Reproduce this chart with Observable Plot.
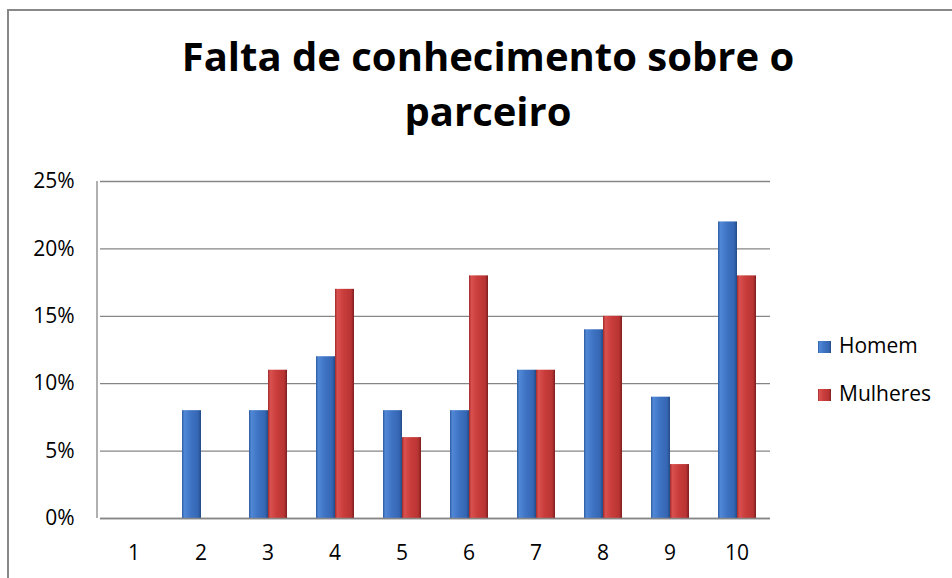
<!DOCTYPE html>
<html><head><meta charset="utf-8">
<script src="https://cdn.jsdelivr.net/npm/d3@7"></script>
<script src="https://cdn.jsdelivr.net/npm/@observablehq/plot@0.6"></script>
<style>
body{margin:0;background:#fff}
#chart{position:relative;width:952px;height:578px;overflow:hidden}
</style>
</head><body><div id="chart"></div>
<script>
const categories = ["1","2","3","4","5","6","7","8","9","10"];
const series = ["Homem","Mulheres"];
const homem =    [0, 0.08, 0.08, 0.12, 0.08, 0.08, 0.11, 0.14, 0.09, 0.22];
const mulheres = [0, 0,    0.11, 0.17, 0.06, 0.18, 0.11, 0.15, 0.04, 0.18];
const yTicks = [0, 0.05, 0.10, 0.15, 0.20, 0.25];
const titleLines = ["Falta de conhecimento sobre o", "parceiro"];

const data = categories.flatMap((c, i) => [
  {cat: c, serie: series[0], value: homem[i]},
  {cat: c, serie: series[1], value: mulheres[i]}
]);

const FONT = "'Open Sans', sans-serif";
const plot = Plot.plot({
  width: 952, height: 578,
  marginLeft: 97, marginRight: 179, marginTop: 181, marginBottom: 60,
  style: {fontFamily: FONT, fontSize: "21px", color: "#000", background: "transparent"},
  fx: {domain: categories, padding: 0, label: null},
  x: {domain: series, paddingInner: 0, paddingOuter: 0.69, axis: null},
  y: {domain: [0, 0.25], axis: null},
  marks: [
    Plot.gridY(yTicks, {stroke: "#868686", strokeOpacity: 1, strokeWidth: 1.3}),
    Plot.barY(data.filter(d => d.serie === series[0]), {fx: "cat", x: "serie", y: "value", fill: "url(#gBlue)"}),
    Plot.barY(data.filter(d => d.serie === series[1]), {fx: "cat", x: "serie", y: "value", fill: "url(#gRed)"}),
    Plot.ruleY([0], {stroke: "#868686", strokeWidth: 1.3}),
    Plot.axisY(yTicks, {anchor: "left", tickFormat: d3.format(".0%"), tickSize: 0, tickPadding: 26, fontSize: 21, label: null}),
    Plot.axisFx({anchor: "bottom", tickSize: 0, tickPadding: 27, fontSize: 21, label: null})
  ]
});

document.getElementById("chart").appendChild(plot);
const svg = d3.select(plot);
const defs = svg.insert("defs", ":first-child");
function grad(id, stops) {
  const g = defs.append("linearGradient").attr("id", id).attr("x1", 0).attr("x2", 1).attr("y1", 0).attr("y2", 0);
  stops.forEach(([o, c]) => g.append("stop").attr("offset", o).attr("stop-color", c));
}
grad("gBlue", [[0, "#2d5a9e"], [0.12, "#5088d6"], [0.45, "#3f74c4"], [0.85, "#3566b3"], [1, "#234a85"]]);
grad("gRed", [[0, "#9e2a2a"], [0.12, "#d9514f"], [0.45, "#c93d3b"], [0.85, "#b83433"], [1, "#7e1e1e"]]);

// vertical value axis line, taken from the plot's own scales
const fxR = plot.scale("fx").range, yR = plot.scale("y").range;
svg.append("line").attr("x1", fxR[0]).attr("x2", fxR[0]).attr("y1", yR[0]).attr("y2", yR[1])
  .attr("stroke", "#868686").attr("stroke-width", 1.3);

// chart border
svg.append("path").attr("d", "M8,578V10H952").attr("fill", "none").attr("stroke", "#888").attr("stroke-width", 2);

// title
const t = svg.append("g").attr("font-family", FONT).attr("font-weight", "bold").attr("font-size", 40).attr("text-anchor", "middle").attr("fill", "#000");
titleLines.forEach((s, i) => t.append("text").attr("x", 488).attr("y", 71 + i * 55).text(s));

// legend
const lg = svg.append("g").attr("font-family", FONT).attr("font-size", 21).attr("text-anchor", "start").attr("fill", "#000");
series.forEach((s, i) => {
  const y0 = 341 + i * 48;
  lg.append("rect").attr("x", 818).attr("y", y0).attr("width", 13).attr("height", 12).attr("fill", i === 0 ? "url(#gBlue)" : "url(#gRed)");
  lg.append("text").attr("x", 839).attr("y", y0 + 12).text(s);
});
</script>
</body></html>
